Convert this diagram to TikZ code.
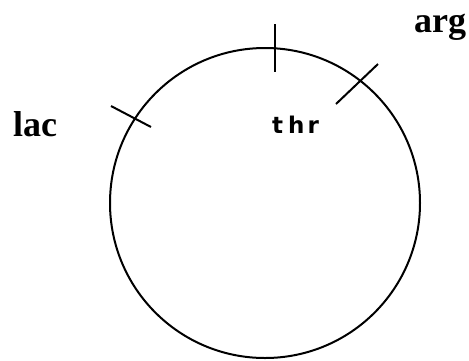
\documentclass[tikz,border=0pt]{standalone}
\usepackage{fontspec}
\setmainfont{Liberation Serif}
\newfontfamily\thrfont{DejaVu Sans}
\begin{document}
\begin{tikzpicture}[x=1pt,y=-1pt,
  lbl/.style={inner sep=0pt,anchor=base west,font=\fontsize{36}{40}\selectfont\bfseries},
  small/.style={inner sep=0pt,anchor=base west},
  ring/.style={line width=2pt},
  tick/.style={line width=2pt}]
\useasboundingbox (0,0) rectangle (469,360);
\node[draw,circle,ring,minimum size=310pt,inner sep=0pt] (c) at (265,203) {};
\coordinate (t1) at (275,24);
\coordinate (t2) at (275,72);
\coordinate (a1) at (378,64);
\coordinate (a2) at (336,104);
\coordinate (l1) at (111,106);
\coordinate (l2) at (151,127);
\draw[tick] (t1) -- (t2);
\draw[tick] (a1) -- (a2);
\draw[tick] (l1) -- (l2);
\node[lbl] (lac) at (13,136) {lac};
\node[lbl] (arg) at (414,32) {arg};
\node[small] (thr) at (272,133) {\thrfont\bfseries\fontsize{23}{26}\selectfont t\kern5pt h\kern3pt r};
\end{tikzpicture}
\end{document}
